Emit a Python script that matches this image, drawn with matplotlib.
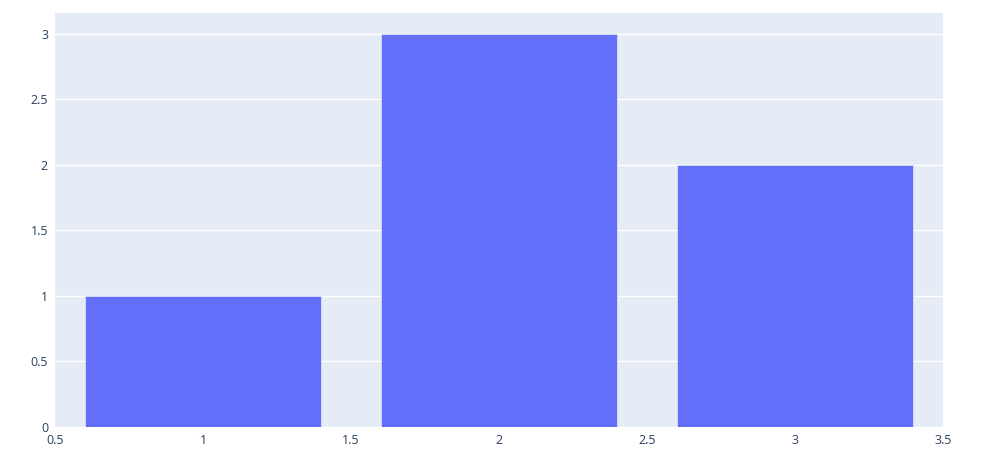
import matplotlib.pyplot as plt

x_vals = [1, 2, 3]
y_vals = [1, 3, 2]
x_ticks = [0.5, 1, 1.5, 2, 2.5, 3, 3.5]
x_tick_labels = ['0.5', '1', '1.5', '2', '2.5', '3', '3.5']
y_ticks = [0, 0.5, 1, 1.5, 2, 2.5, 3]
y_tick_labels = ['0', '0.5', '1', '1.5', '2', '2.5', '3']

plt.rcParams['font.family'] = ['Open Sans', 'DejaVu Sans']

fig = plt.figure(figsize=(9.82, 4.70), dpi=100)
ax = fig.add_axes([55 / 982, 43 / 470, 888 / 982, 414 / 470])
ax.set_facecolor('#E5ECF6')

ax.bar(x_vals, y_vals, width=0.8, color='#636EFA', edgecolor='#E5ECF6', linewidth=0.5, zorder=3)

ax.set_xlim(0.5, 3.5)
ax.set_ylim(0, max(y_vals) * 1.0526)
ax.set_xticks(x_ticks)
ax.set_xticklabels(x_tick_labels)
ax.set_yticks(y_ticks)
ax.set_yticklabels(y_tick_labels)
ax.grid(axis='y', color='white', linewidth=1, zorder=0)
ax.set_axisbelow(True)
ax.tick_params(length=0, labelsize=9, labelcolor='#2a3f5f', pad=5)
for s in ax.spines.values():
    s.set_visible(False)

plt.savefig('out.png')
plt.close()
